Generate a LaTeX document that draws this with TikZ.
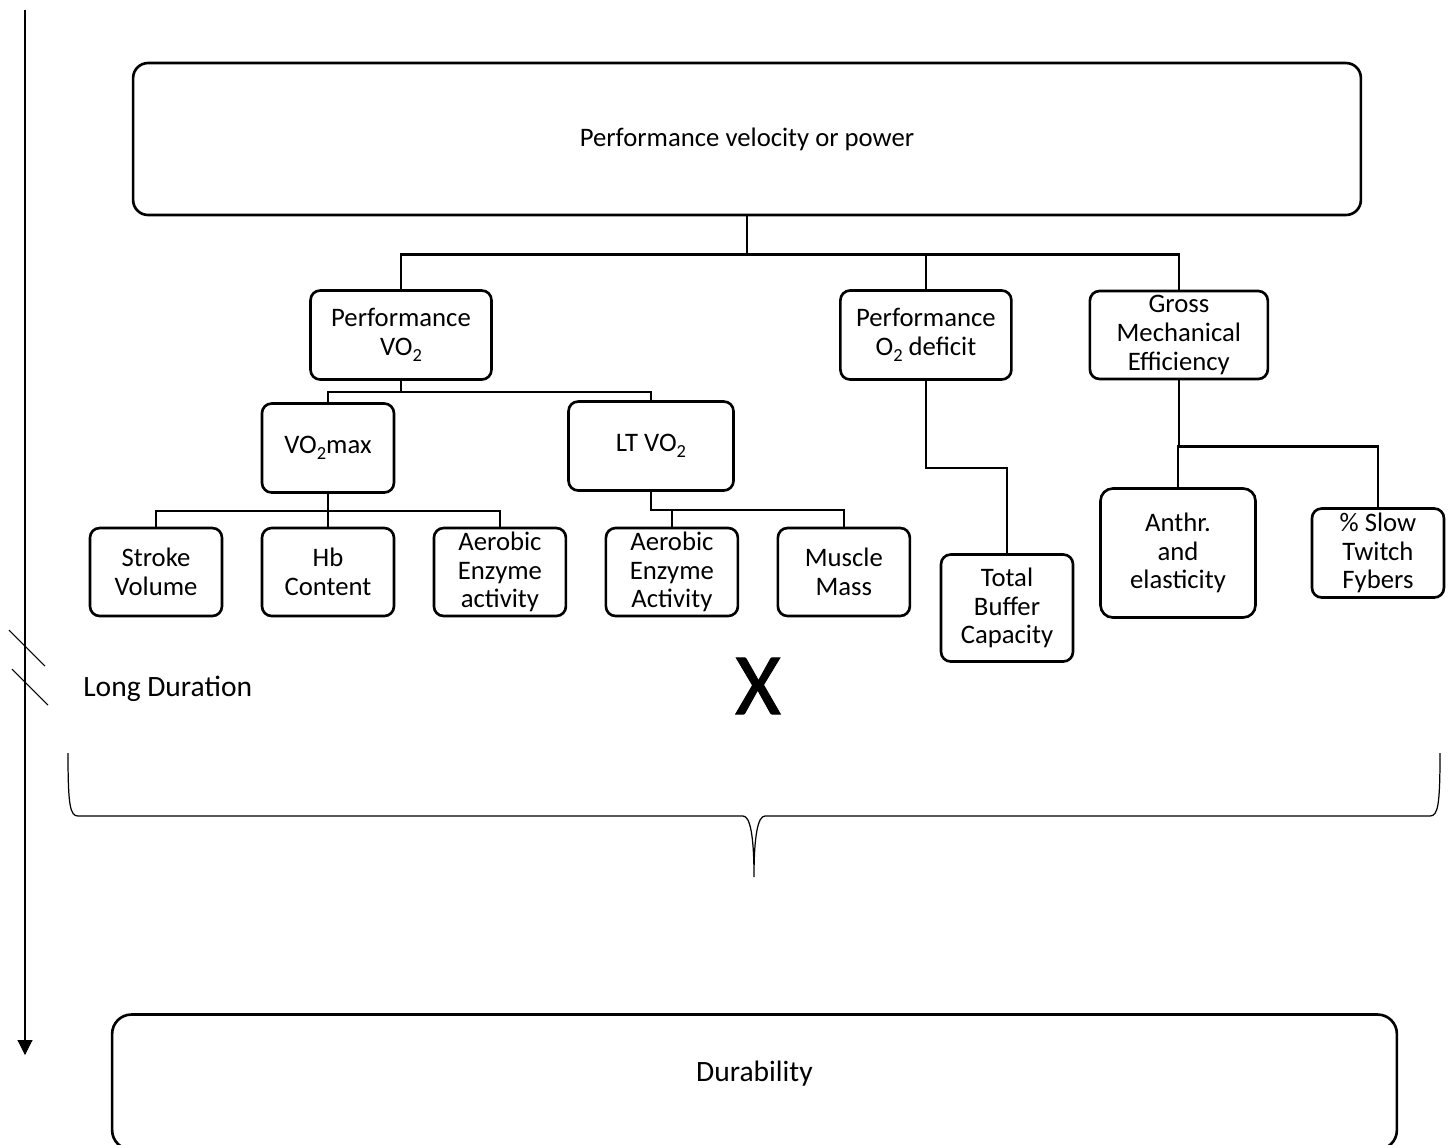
\documentclass[tikz,border=0pt]{standalone}
\usepackage{fontspec}
\setmainfont{Carlito}
\usepackage{tikz}
\usetikzlibrary{arrows.meta,positioning}
\newcommand{\subdos}{\raisebox{-0.45ex}{\fontsize{10.5}{10.5}\selectfont 2}}

\begin{document}
\begin{tikzpicture}[x=0.02cm,y=-0.02cm,line width=1.5pt,node distance=3.44cm,font=\fontsize{15.2}{16.4}\selectfont]
 \tikzstyle{caja}=[draw,rounded corners=5.5pt,align=center,inner sep=0pt,minimum width=2.64cm,minimum height=1.76cm]
 \tikzstyle{fina}=[line width=0.6pt]
 \tikzstyle{grande}=[font=\fontsize{16.8}{18}\selectfont]
 \useasboundingbox (0,0) rectangle (1450,1144);

   \node[caja,minimum width=24.56cm,minimum height=3.04cm,rounded corners=8.5pt] (perf) at (747,139) {Performance velocity or power};
   \node[caja,minimum width=3.62cm,minimum height=1.78cm] (pvo) at (401,335) {Performance\\VO\subdos};
   \node[caja,minimum width=3.42cm,minimum height=1.78cm,node distance=10.5cm] (pod) [right of = pvo] {Performance\\O\subdos{} deficit};
   \node[caja,minimum width=3.56cm,node distance=5.06cm] (gme) [right of = pod] {Gross\\Mechanical\\Efficiency};

   \node[caja] (sv) at (156,572) {Stroke\\Volume};
   \node[caja] (hb) [right of = sv] {Hb\\Content};
   \node[caja] (aea) [right of = hb] {Aerobic\\Enzyme\\activity};
   \node[caja] (aeA) [right of = aea] {Aerobic\\Enzyme\\Activity};
   \node[caja] (mm) [right of = aeA] {Muscle\\Mass};
   \node[caja,minimum height=1.78cm,node distance=2.48cm] (vmax) [above of = hb] {VO\subdos max};
   \node[caja,minimum width=3.3cm,minimum height=1.78cm] (ltvo) at (651,446) {LT VO\subdos};

   \node[caja,minimum height=2.14cm] (tbc) at (1007,608) {Total\\Buffer\\Capacity};
   \node[caja,minimum width=3.1cm,minimum height=2.58cm,rounded corners=7pt] (anthr) at (1178,553) {Anthr.\\and\\elasticity};
   \node[caja,minimum height=1.78cm,node distance=4cm] (stf) [right of = anthr] {\% Slow\\Twitch\\Fybers};

   \node[caja,grande,minimum width=25.7cm,minimum height=2.7cm,rounded corners=11pt,text depth=0.45cm] (dur) at (754.5,1082) {Durability};

   \node[grande,anchor=west,inner sep=0pt] (largo) at (82,689) {Long Duration};
   \node[inner sep=0pt,font=\fontsize{50}{51}\selectfont\addfontfeature{FakeBold=1.2}] (por) at (758,686) {X};

   % connectors
   \draw (perf.south) -- ++(0,38) coordinate (j1);
   \draw (pvo.north) |- (j1) -| (gme.north);
   \draw (j1) -| (pod.north);
   \draw (pvo.south) -- ++(0,11) coordinate (j2);
   \draw (vmax.north) |- (j2) -| (ltvo.north);
   \draw (vmax.south) -- ++(0,17) coordinate (j3);
   \draw (sv.north) |- (j3) -| (aea.north);
   \draw (j3) -- (hb.north);
   \draw (ltvo.south) -- ++(0,18) coordinate (j4) -| (mm.north);
   \draw (j4) -| (aeA.north);
   \draw (pod.south) -- ++(0,87) -| (tbc.north);
   \draw (gme.south) -- ++(0,66) coordinate (j5) -| (stf.north);
   \draw (j5) -| (anthr.north);

   % time axis
   \coordinate (tope) at (25,10);
   \coordinate (fin) at (25,1055);
   \draw[fina,-{Triangle[length=8.5pt,width=8.5pt]}] (tope) -- (fin);
   \draw[fina] (9,630) -- (45,666);
   \draw[fina] (12,669) -- (48,705);

   % brace
   \draw[line width=0.7pt] (68,753) .. controls (68,805) and (70,816) .. (78,816) -- (743,816)
     .. controls (750,816) and (754,835) .. (754,877)
     .. controls (754,835) and (758,816) .. (765,816) -- (1430,816)
     .. controls (1438,816) and (1440,805) .. (1440,753);

\end{tikzpicture}
\end{document}
